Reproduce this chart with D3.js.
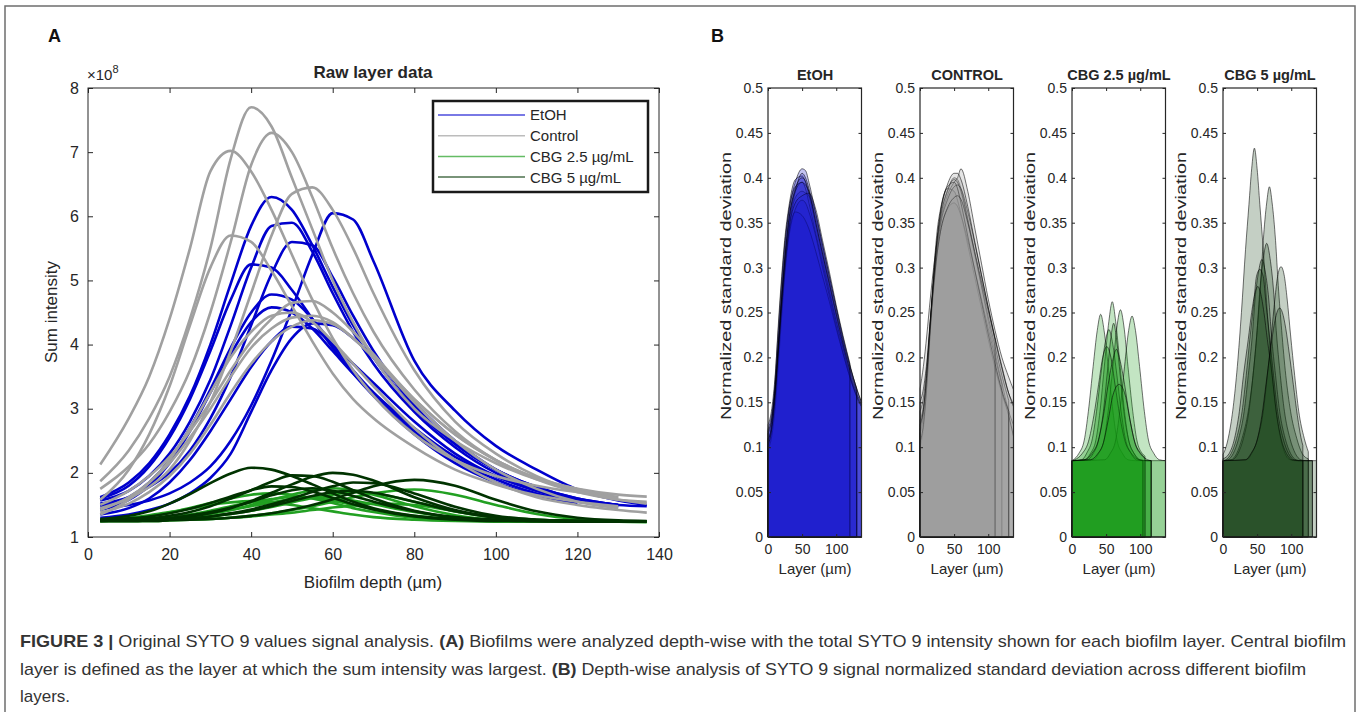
<!DOCTYPE html>
<html lang="en">
<head>
<meta charset="utf-8">
<title>Figure 3 - SYTO 9 signal analysis</title>
<script src="https://d3js.org/d3.v7.min.js"></script>
<style>
    body { margin: 0; background: #fff; }
    svg text { font-family: "Liberation Sans", Arial, sans-serif; fill: #262626; }
    .caption text { font-family: "Liberation Sans Narrow", "Liberation Sans", Arial, sans-serif; fill: #333; font-size: 17px; }
</style>
</head>
<body>
<script>
// ---------- DATA ----------

// panel A: biofilm depth (um) grid, sum intensity in units of 1e8
const depth = [3, 10, 15, 20, 25, 30, 35, 40, 45, 50, 55, 60, 65, 70, 80, 90, 100, 110, 120, 130, 137];

const etohRaw = [
    [1.62, 1.85, 2.15, 2.6, 3.2, 4.0, 4.95, 5.85, 6.3, 6.1, 5.55, 4.9, 4.3, 3.8, 3.0, 2.45, 2.05, 1.78, 1.6, 1.5],
    [1.45, 1.5, 1.57, 1.68, 1.85, 2.1, 2.5, 3.05, 3.75, 4.55, 5.4, 6.05, 5.95, 5.3, 3.75, 2.97, 2.42, 2.05, 1.74, 1.57, 1.5],
    [1.57, 1.72, 1.95, 2.3, 2.8, 3.45, 4.3, 5.2, 5.85, 5.9, 5.45, 4.8, 4.2, 3.7, 2.95, 2.4, 2.0, 1.75, 1.58],
    [1.52, 1.62, 1.78, 2.0, 2.35, 2.85, 3.5, 4.3, 5.1, 5.6, 5.55, 5.05, 4.45, 3.9, 3.05, 2.45, 2.05, 1.78, 1.6, 1.5],
    [1.6, 1.8, 2.1, 2.55, 3.15, 3.9, 4.7, 5.25, 5.2, 4.85, 4.4, 3.95, 3.55, 3.2, 2.6, 2.15, 1.85, 1.65, 1.52],
    [1.48, 1.62, 1.85, 2.2, 2.7, 3.3, 3.95, 4.5, 4.78, 4.7, 4.4, 4.0, 3.6, 3.25, 2.65, 2.2, 1.9, 1.68, 1.55, 1.48],
    [1.42, 1.58, 1.8, 2.15, 2.65, 3.25, 3.85, 4.35, 4.58, 4.5, 4.25, 3.9, 3.55, 3.25, 2.7, 2.25, 1.95, 1.72, 1.58, 1.5, 1.48],
    [1.3, 1.35, 1.42, 1.52, 1.68, 1.92, 2.3, 2.95, 3.6, 4.1, 4.33, 4.3, 4.1, 3.8, 3.1, 2.5, 2.05, 1.75, 1.58, 1.5],
    [1.35, 1.45, 1.6, 1.85, 2.2, 2.65, 3.15, 3.65, 4.05, 4.28, 4.25, 4.0, 3.7, 3.4, 2.8, 2.3, 1.95, 1.72, 1.56, 1.48]
];

const controlRaw = [
    [2.13, 2.85, 3.5, 4.4, 5.5, 6.7, 7.02, 6.7, 6.1, 5.4, 4.7, 4.1, 3.6, 3.2, 2.6, 2.2, 1.95, 1.8, 1.7, 1.62],
    [1.87, 2.35, 2.85, 3.5, 4.4, 5.5, 6.9, 7.7, 7.4, 6.6, 5.8, 5.0, 4.35, 3.8, 3.0, 2.5, 2.15, 1.9, 1.75, 1.66, 1.63],
    [1.75, 2.1, 2.45, 2.95, 3.6, 4.5, 5.6, 6.8, 7.3, 7.0, 6.3, 5.5, 4.8, 4.2, 3.3, 2.65, 2.2, 1.92, 1.75, 1.62],
    [1.58, 2.05, 2.6, 3.35, 4.3, 5.2, 5.7, 5.6, 5.15, 4.6, 4.05, 3.55, 3.15, 2.85, 2.4, 2.05, 1.82, 1.65, 1.55, 1.48],
    [1.45, 1.6, 1.78, 2.05, 2.5, 3.1, 3.9, 4.8, 5.7, 6.35, 6.45, 6.1, 5.5, 4.8, 3.6, 2.8, 2.3, 1.95, 1.72, 1.58, 1.55],
    [1.5, 1.72, 1.95, 2.25, 2.65, 3.1, 3.6, 4.05, 4.4, 4.65, 4.68, 4.5, 4.2, 3.85, 3.15, 2.6, 2.2, 1.9, 1.7, 1.58, 1.52],
    [1.42, 1.62, 1.85, 2.15, 2.55, 3.0, 3.5, 3.95, 4.25, 4.42, 4.45, 4.35, 4.1, 3.8, 3.15, 2.6, 2.2, 1.92, 1.72, 1.6],
    [1.35, 1.58, 1.85, 2.2, 2.7, 3.25, 3.8, 4.2, 4.45, 4.5, 4.35, 4.05, 3.7, 3.35, 2.7, 2.2, 1.85, 1.62, 1.5, 1.42, 1.38],
    [1.38, 1.52, 1.7, 1.95, 2.3, 2.75, 3.25, 3.7, 4.05, 4.28, 4.38, 4.32, 4.1, 3.8, 3.1, 2.5, 2.05, 1.75, 1.55, 1.45]
];

const cbg25Raw = [
    [1.26, 1.28, 1.32, 1.38, 1.45, 1.53, 1.6, 1.66, 1.68, 1.66, 1.6, 1.53, 1.45, 1.39, 1.3, 1.26, 1.25, 1.24, 1.24, 1.24, 1.23],
    [1.25, 1.26, 1.28, 1.31, 1.35, 1.41, 1.48, 1.54, 1.59, 1.62, 1.61, 1.56, 1.5, 1.43, 1.33, 1.27, 1.25, 1.24, 1.24, 1.24],
    [1.25, 1.26, 1.27, 1.29, 1.32, 1.36, 1.42, 1.5, 1.58, 1.66, 1.73, 1.76, 1.73, 1.66, 1.48, 1.34, 1.27, 1.25, 1.24, 1.24, 1.24],
    [1.25, 1.25, 1.25, 1.26, 1.27, 1.28, 1.3, 1.33, 1.37, 1.42, 1.48, 1.55, 1.62, 1.68, 1.74, 1.66, 1.5, 1.36, 1.28, 1.25, 1.24],
    [1.27, 1.3, 1.34, 1.39, 1.44, 1.5, 1.54, 1.56, 1.54, 1.5, 1.45, 1.4, 1.35, 1.31, 1.27, 1.25, 1.24, 1.24, 1.24],
    [1.25, 1.25, 1.26, 1.27, 1.29, 1.32, 1.36, 1.41, 1.47, 1.54, 1.61, 1.66, 1.7, 1.68, 1.55, 1.4, 1.3, 1.26, 1.25, 1.24, 1.24],
    [1.26, 1.27, 1.28, 1.3, 1.33, 1.37, 1.42, 1.48, 1.54, 1.59, 1.62, 1.61, 1.57, 1.51, 1.39, 1.3, 1.26, 1.25, 1.24, 1.24],
    [1.25, 1.25, 1.25, 1.26, 1.27, 1.28, 1.3, 1.32, 1.35, 1.38, 1.42, 1.46, 1.49, 1.52, 1.5, 1.4, 1.31, 1.27, 1.25, 1.24, 1.24]
];

const cbg5Raw = [
    [1.28, 1.33, 1.4, 1.52, 1.67, 1.84, 1.99, 2.08, 2.05, 1.95, 1.82, 1.68, 1.55, 1.45, 1.33, 1.28, 1.26, 1.25, 1.25, 1.24],
    [1.26, 1.27, 1.29, 1.33, 1.39, 1.48, 1.6, 1.73, 1.86, 1.96, 1.95, 1.86, 1.73, 1.6, 1.41, 1.31, 1.27, 1.25, 1.25, 1.24],
    [1.26, 1.26, 1.27, 1.29, 1.32, 1.37, 1.45, 1.56, 1.69, 1.82, 1.94, 2.0, 1.97, 1.88, 1.62, 1.42, 1.31, 1.27, 1.25, 1.24],
    [1.25, 1.25, 1.25, 1.26, 1.27, 1.28, 1.3, 1.33, 1.37, 1.43, 1.5, 1.59, 1.69, 1.79, 1.89, 1.8, 1.58, 1.4, 1.3, 1.26, 1.25],
    [1.27, 1.29, 1.32, 1.37, 1.44, 1.53, 1.63, 1.73, 1.79, 1.78, 1.71, 1.61, 1.51, 1.43, 1.32, 1.27, 1.25, 1.25, 1.24, 1.24],
    [1.26, 1.27, 1.28, 1.3, 1.34, 1.39, 1.46, 1.55, 1.65, 1.73, 1.76, 1.72, 1.64, 1.55, 1.4, 1.3, 1.26, 1.25, 1.24, 1.24],
    [1.25, 1.26, 1.26, 1.27, 1.29, 1.32, 1.36, 1.41, 1.48, 1.56, 1.64, 1.7, 1.72, 1.69, 1.55, 1.4, 1.3, 1.26, 1.25, 1.24, 1.24],
    [1.25, 1.25, 1.26, 1.27, 1.29, 1.32, 1.37, 1.43, 1.51, 1.6, 1.7, 1.79, 1.85, 1.84, 1.68, 1.47, 1.33, 1.27, 1.25, 1.24]
];

const groupNames = ["EtOH", "Control", "CBG 2.5 µg/mL", "CBG 5 µg/mL"];
const rawXTicks = [0, 20, 40, 60, 80, 100, 120, 140];
const rawYTicks = [1, 2, 3, 4, 5, 6, 7, 8];

// panel B: layer (um) grid, normalized standard deviation
const layerGrid = [0, 5, 10, 15, 20, 25, 30, 40, 50, 55, 60, 70, 80, 90, 100, 110, 120, 130, 137];

const etohStd = [
    [0.100, 0.115, 0.155, 0.215, 0.275, 0.325, 0.360, 0.395, 0.410, 0.408, 0.395, 0.360, 0.325, 0.290, 0.255, 0.220, 0.190, 0.165, 0.150],
    [0.105, 0.125, 0.170, 0.235, 0.290, 0.335, 0.365, 0.398, 0.402, 0.395, 0.380, 0.345, 0.310, 0.275, 0.240, 0.210, 0.180, 0.158, 0.146],
    [0.120, 0.135, 0.165, 0.215, 0.265, 0.310, 0.345, 0.385, 0.405, 0.400, 0.388, 0.350, 0.315, 0.280, 0.245, 0.213, 0.185],
    [0.110, 0.120, 0.150, 0.200, 0.255, 0.305, 0.340, 0.378, 0.385, 0.383, 0.380, 0.355, 0.320, 0.285, 0.250, 0.218, 0.190, 0.165],
    [0.125, 0.140, 0.175, 0.230, 0.285, 0.330, 0.360, 0.390, 0.395, 0.388, 0.372, 0.338, 0.305, 0.272, 0.240, 0.210, 0.182, 0.160, 0.148],
    [0.098, 0.110, 0.140, 0.190, 0.245, 0.295, 0.330, 0.365, 0.375, 0.372, 0.362, 0.335, 0.300, 0.268, 0.235, 0.205, 0.178, 0.157],
    [0.115, 0.128, 0.160, 0.210, 0.262, 0.305, 0.335, 0.362, 0.358, 0.352, 0.343, 0.318, 0.290, 0.262, 0.232, 0.204, 0.178, 0.156, 0.145],
    [0.108, 0.122, 0.158, 0.212, 0.268, 0.315, 0.350, 0.385, 0.395, 0.392, 0.385, 0.360, 0.325, 0.290, 0.255, 0.222, 0.192, 0.165, 0.150],
    [0.118, 0.130, 0.160, 0.205, 0.255, 0.300, 0.338, 0.372, 0.380, 0.382, 0.383, 0.365, 0.330, 0.295, 0.258, 0.224, 0.193],
    [0.102, 0.118, 0.152, 0.205, 0.262, 0.312, 0.350, 0.388, 0.400, 0.396, 0.384, 0.350, 0.315, 0.282, 0.248, 0.215, 0.186, 0.162]
];

const controlStd = [
    [0.100, 0.120, 0.165, 0.225, 0.280, 0.325, 0.355, 0.385, 0.400, 0.398, 0.388, 0.355, 0.318, 0.280, 0.240, 0.205, 0.172, 0.140, 0.125],
    [0.165, 0.190, 0.225, 0.265, 0.300, 0.330, 0.352, 0.380, 0.395, 0.400, 0.410, 0.385, 0.345, 0.305, 0.265, 0.230, 0.200, 0.178, 0.164],
    [0.115, 0.135, 0.180, 0.240, 0.295, 0.340, 0.365, 0.388, 0.385, 0.375, 0.360, 0.325, 0.290, 0.255, 0.220, 0.188, 0.160, 0.135, 0.112],
    [0.130, 0.145, 0.180, 0.230, 0.275, 0.315, 0.340, 0.365, 0.372, 0.368, 0.358, 0.330, 0.298, 0.265, 0.232, 0.200, 0.170],
    [0.120, 0.140, 0.180, 0.235, 0.285, 0.325, 0.355, 0.385, 0.398, 0.395, 0.385, 0.352, 0.315, 0.280, 0.245, 0.212, 0.180, 0.152],
    [0.140, 0.155, 0.190, 0.240, 0.285, 0.322, 0.348, 0.375, 0.390, 0.392, 0.388, 0.362, 0.328, 0.292, 0.256, 0.222, 0.190, 0.160, 0.145],
    [0.105, 0.125, 0.170, 0.230, 0.285, 0.330, 0.360, 0.390, 0.395, 0.388, 0.372, 0.335, 0.298, 0.262, 0.226, 0.193, 0.163, 0.140],
    [0.150, 0.165, 0.195, 0.240, 0.280, 0.315, 0.340, 0.366, 0.378, 0.380, 0.376, 0.350, 0.318, 0.285, 0.252, 0.220],
    [0.125, 0.142, 0.182, 0.235, 0.288, 0.332, 0.362, 0.392, 0.405, 0.405, 0.398, 0.368, 0.330, 0.292, 0.255, 0.220, 0.188, 0.160, 0.148]
];

// CBG curves sit on a flat baseline, so only [layer, value] points are kept
const cbg25Std = [
    [[0, .085], [2, .086], [10, .093], [18, .108], [24, .14], [31, .19], [37, .23], [42, .248], [47, .23], [53, .19], [60, .14], [66, .108], [74, .093], [82, .086], [93, .085], [137, .085]],
    [[0, .085], [19, .086], [27, .093], [35, .108], [41, .14], [48, .195], [54, .24], [59, .262], [64, .24], [70, .195], [77, .14], [83, .108], [91, .093], [99, .086], [110, .085], [116, .085]],
    [[0, .085], [31, .086], [39, .093], [47, .108], [53, .14], [60, .19], [66, .235], [71, .253], [76, .235], [82, .19], [89, .14], [95, .108], [103, .093], [107, .09]],
    [[0, .085], [48, .086], [56, .093], [64, .108], [70, .14], [77, .19], [83, .23], [88, .246], [93, .23], [99, .19], [106, .14], [112, .108], [120, .093], [128, .086], [137, .085]],
    [[0, .085], [14, .086], [22, .094], [30, .11], [36, .14], [43, .185], [49, .218], [54, .231], [59, .218], [65, .185], [72, .14], [78, .11], [86, .094], [94, .086], [104, .085]],
    [[0, .085], [22, .086], [31, .093], [39, .108], [46, .14], [52, .185], [57, .222], [61, .238], [65, .222], [70, .185], [76, .14], [83, .108], [91, .093], [100, .086], [110, .085], [116, .085]],
    [[0, .085], [4, .086], [15, .093], [24, .106], [32, .135], [39, .17], [45, .2], [51, .212], [57, .2], [63, .17], [70, .135], [78, .106], [87, .093], [98, .086], [104, .085]],
    [[0, .085], [18, .086], [29, .093], [38, .106], [46, .135], [53, .17], [60, .198], [65, .209], [70, .198], [77, .17], [84, .135], [92, .106], [101, .093], [107, .088]],
    [[0, .085], [27, .086], [37, .092], [46, .105], [53, .13], [60, .158], [69, .17], [78, .158], [85, .13], [92, .105], [101, .092], [111, .086], [116, .085]]
];

const cbg5Std = [
    [[0, .092], [3, .097], [9, .115], [15, .145], [21, .19], [27, .25], [33, .32], [38, .37], [42, .41], [46, .433], [50, .41], [54, .37], [59, .32], [65, .25], [71, .19], [77, .145], [83, .115], [89, .097], [96, .087], [105, .085], [137, .085]],
    [[0, .085], [12, .086], [20, .093], [28, .11], [37, .14], [44, .18], [50, .23], [55, .28], [59, .33], [64, .372], [68, .39], [72, .372], [77, .33], [81, .28], [86, .23], [92, .18], [99, .14], [108, .11], [116, .093], [125, .087]],
    [[0, .085], [14, .086], [22, .093], [30, .11], [38, .14], [44, .18], [50, .23], [54, .275], [59, .31], [64, .327], [69, .31], [74, .275], [78, .23], [84, .18], [90, .14], [98, .11], [106, .093], [114, .086], [122, .085], [131, .085]],
    [[0, .085], [7, .086], [15, .093], [23, .11], [31, .14], [37, .18], [43, .225], [47, .265], [52, .295], [57, .309], [62, .295], [67, .265], [71, .225], [77, .18], [83, .14], [91, .11], [99, .093], [107, .086], [115, .085], [117, .085]],
    [[0, .085], [34, .086], [42, .093], [51, .11], [59, .14], [65, .18], [71, .225], [76, .265], [80, .29], [85, .301], [90, .29], [94, .265], [99, .225], [105, .18], [111, .14], [119, .11], [125, .095]],
    [[0, .085], [4, .086], [12, .093], [20, .11], [28, .14], [34, .18], [40, .225], [45, .26], [49, .29], [54, .298], [59, .29], [63, .26], [68, .225], [74, .18], [80, .14], [88, .11], [96, .093], [104, .086], [112, .085], [117, .085]],
    [[0, .087], [9, .093], [17, .11], [24, .14], [30, .18], [37, .22], [42, .25], [47, .272], [51, .279], [55, .272], [60, .25], [65, .22], [72, .18], [78, .14], [85, .11], [93, .093], [101, .086], [110, .085], [131, .085]],
    [[0, .085], [33, .086], [41, .093], [50, .108], [57, .135], [63, .17], [69, .205], [74, .232], [79, .25], [83, .255], [87, .25], [92, .232], [97, .205], [103, .17], [109, .135], [115, .108], [117, .102]]
];

const stdTitles = ["EtOH", "CONTROL", "CBG 2.5 µg/mL", "CBG 5 µg/mL"];
const stdYTicks = [0, 0.05, 0.1, 0.15, 0.2, 0.25, 0.3, 0.35, 0.4, 0.45, 0.5];
const layerTicks = [0, 50, 100];

// ---------- DRAWING ----------
const width = 1358, height = 712;
const lineColors = ["#0000cd", "#a0a0a0", "#22a022", "#003300"];

const svg = d3.select("body").append("svg")
    .attr("width", width)
    .attr("height", height);

svg.append("rect")
    .attr("x", 5).attr("y", 6)
    .attr("width", 1350).attr("height", 730)
    .attr("fill", "none")
    .attr("stroke", "#6e6e6e")
    .attr("stroke-width", 1.5);

// panel letters
svg.append("text").attr("x", 48).attr("y", 42).attr("font-size", 18).attr("font-weight", "bold").style("fill", "#111").text("A");
svg.append("text").attr("x", 711).attr("y", 42).attr("font-size", 18).attr("font-weight", "bold").style("fill", "#111").text("B");

//---- panel A
const xA = d3.scaleLinear().domain([0, 140]).range([88, 659]);
const yA = d3.scaleLinear().domain([1, 8]).range([537, 88]);

const gA = svg.append("g");

gA.append("clipPath").attr("id", "clipA")
    .append("rect")
    .attr("x", 88).attr("y", 88)
    .attr("width", 571).attr("height", 449);

const rawLine = d3.line()
    .x(d => xA(d[0]))
    .y(d => yA(d[1]))
    .curve(d3.curveMonotoneX);

[etohRaw, controlRaw, cbg25Raw, cbg5Raw].forEach((group, gi) => {
    gA.append("g")
        .attr("clip-path", "url(#clipA)")
        .selectAll("path")
        .data(group)
        .enter()
        .append("path")
        .attr("d", ys => rawLine(ys.map((v, i) => [depth[i], v])))
        .attr("fill", "none")
        .attr("stroke", lineColors[gi])
        .attr("stroke-width", 2.6)
        .attr("stroke-linejoin", "round");
});

// axes - ticks point inward like matlab
function styleAxis(g, size) {
    g.select(".domain").remove();
    g.selectAll("line").attr("stroke", "#262626");
    g.selectAll("text").attr("font-family", null).attr("font-size", size).style("fill", "#262626");
}

gA.append("g")
    .attr("transform", "translate(0,537)")
    .call(d3.axisBottom(xA).tickValues(rawXTicks).tickSizeInner(-5).tickSizeOuter(0).tickPadding(12).tickFormat(d3.format("d")))
    .call(g => styleAxis(g, 16));
gA.append("g")
    .attr("transform", "translate(0,88)")
    .call(d3.axisTop(xA).tickValues(rawXTicks).tickSizeInner(-5).tickSizeOuter(0).tickFormat(""))
    .call(g => styleAxis(g, 16));
gA.append("g")
    .attr("transform", "translate(88,0)")
    .call(d3.axisLeft(yA).tickValues(rawYTicks).tickSizeInner(-5).tickSizeOuter(0).tickPadding(9).tickFormat(d3.format("d")))
    .call(g => styleAxis(g, 16));
gA.append("g")
    .attr("transform", "translate(659,0)")
    .call(d3.axisRight(yA).tickValues(rawYTicks).tickSizeInner(-5).tickSizeOuter(0).tickFormat(""))
    .call(g => styleAxis(g, 16));

gA.append("rect")
    .attr("x", 88).attr("y", 88)
    .attr("width", 571).attr("height", 449)
    .attr("fill", "none")
    .attr("stroke", "#262626")
    .attr("stroke-width", 1);

const expo = gA.append("text").attr("x", 87).attr("y", 80).attr("font-size", 15);
expo.append("tspan").text("×10");
expo.append("tspan").attr("dy", -7).attr("font-size", 11).text("8");

gA.append("text")
    .attr("x", 373).attr("y", 78)
    .attr("text-anchor", "middle")
    .attr("font-size", 17).attr("font-weight", "bold")
    .text("Raw layer data");

gA.append("text")
    .attr("x", 373).attr("y", 588)
    .attr("text-anchor", "middle")
    .attr("font-size", 17)
    .text("Biofilm depth (µm)");

gA.append("text")
    .attr("transform", "translate(57,312) rotate(-90)")
    .attr("text-anchor", "middle")
    .attr("font-size", 17)
    .text("Sum intensity");

// legend
const leg = gA.append("g");
leg.append("rect")
    .attr("x", 433).attr("y", 101)
    .attr("width", 215).attr("height", 91)
    .attr("fill", "#fff")
    .attr("stroke", "#1a1a1a")
    .attr("stroke-width", 2.5);

const legRows = leg.selectAll("g.row")
    .data(groupNames)
    .enter()
    .append("g")
    .attr("class", "row")
    .attr("transform", (d, i) => "translate(0," + (115 + i * 20.7) + ")");

legRows.append("line")
    .attr("x1", 438).attr("x2", 525)
    .attr("stroke", (d, i) => lineColors[i])
    .attr("stroke-opacity", 0.7)
    .attr("stroke-width", 1.5);

legRows.append("text")
    .attr("x", 530).attr("dy", "0.36em")
    .attr("font-size", 15)
    .text(d => d);

//---- panel B
const stdPanels = [
    { left: 768, fill: "#1515cd", curves: etohStd.map(v => v.map((s, i) => [layerGrid[i], s])) },
    { left: 920, fill: "#989898", curves: controlStd.map(v => v.map((s, i) => [layerGrid[i], s])) },
    { left: 1072, fill: "#109810", curves: cbg25Std },
    { left: 1223, fill: "#123f12", curves: cbg5Std }
];

const yB = d3.scaleLinear().domain([0, 0.5]).range([537, 88]);

stdPanels.forEach((p, pi) => {
    const xB = d3.scaleLinear().domain([0, 137]).range([p.left, p.left + 93.5]);
    const g = svg.append("g");

    const area = d3.area()
        .x(d => xB(d[0]))
        .y0(yB(0))
        .y1(d => yB(d[1]))
        .curve(d3.curveMonotoneX);

    g.selectAll("path.std")
        .data(p.curves)
        .enter()
        .append("path")
        .attr("class", "std")
        .attr("d", area)
        .attr("fill", p.fill)
        .attr("fill-opacity", 0.25)
        .attr("stroke", "#000")
        .attr("stroke-opacity", 0.55)
        .attr("stroke-width", 1);

    g.append("g")
        .attr("transform", "translate(0,537)")
        .call(d3.axisBottom(xB).tickValues(layerTicks).tickSizeInner(-3).tickSizeOuter(0).tickPadding(7))
        .call(a => styleAxis(a, 14));
    g.append("g")
        .attr("transform", "translate(0,88)")
        .call(d3.axisTop(xB).tickValues(layerTicks).tickSizeInner(-3).tickSizeOuter(0).tickFormat(""))
        .call(a => styleAxis(a, 14));
    g.append("g")
        .attr("transform", "translate(" + p.left + ",0)")
        .call(d3.axisLeft(yB).tickValues(stdYTicks).tickSizeInner(-3).tickSizeOuter(0).tickPadding(5).tickFormat(d3.format("~g")))
        .call(a => styleAxis(a, 14));
    g.append("g")
        .attr("transform", "translate(" + (p.left + 93.5) + ",0)")
        .call(d3.axisRight(yB).tickValues(stdYTicks).tickSizeInner(-3).tickSizeOuter(0).tickFormat(""))
        .call(a => styleAxis(a, 14));

    g.append("rect")
        .attr("x", p.left).attr("y", 88)
        .attr("width", 93.5).attr("height", 449)
        .attr("fill", "none")
        .attr("stroke", "#262626")
        .attr("stroke-width", 1.2);

    g.append("text")
        .attr("x", p.left + 47).attr("y", 80)
        .attr("text-anchor", "middle")
        .attr("font-size", 14.5).attr("font-weight", "bold")
        .text(stdTitles[pi]);

    g.append("text")
        .attr("x", p.left + 47).attr("y", 574)
        .attr("text-anchor", "middle")
        .attr("font-size", 15)
        .text("Layer (µm)");

    g.append("text")
        .attr("transform", "translate(" + (p.left - 37) + ",286) rotate(-90)")
        .attr("text-anchor", "middle")
        .attr("font-size", 15)
        .attr("textLength", 268)
        .attr("lengthAdjust", "spacingAndGlyphs")
        .text("Normalized standard deviation");
});

//---- caption
const cap = svg.append("g").attr("class", "caption");

const line1 = cap.append("text").attr("x", 20).attr("y", 647)
    .attr("textLength", 1326).attr("lengthAdjust", "spacingAndGlyphs");
line1.append("tspan").attr("font-weight", "bold").text("FIGURE 3 | ");
line1.append("tspan").text("Original SYTO 9 values signal analysis. ");
line1.append("tspan").attr("font-weight", "bold").text("(A)");
line1.append("tspan").text(" Biofilms were analyzed depth-wise with the total SYTO 9 intensity shown for each biofilm layer. Central biofilm");

const line2 = cap.append("text").attr("x", 20).attr("y", 675)
    .attr("textLength", 1286).attr("lengthAdjust", "spacingAndGlyphs");
line2.append("tspan").text("layer is defined as the layer at which the sum intensity was largest. ");
line2.append("tspan").attr("font-weight", "bold").text("(B)");
line2.append("tspan").text(" Depth-wise analysis of SYTO 9 signal normalized standard deviation across different biofilm");

cap.append("text").attr("x", 20).attr("y", 702)
    .text("layers.");
</script>
</body>
</html>
